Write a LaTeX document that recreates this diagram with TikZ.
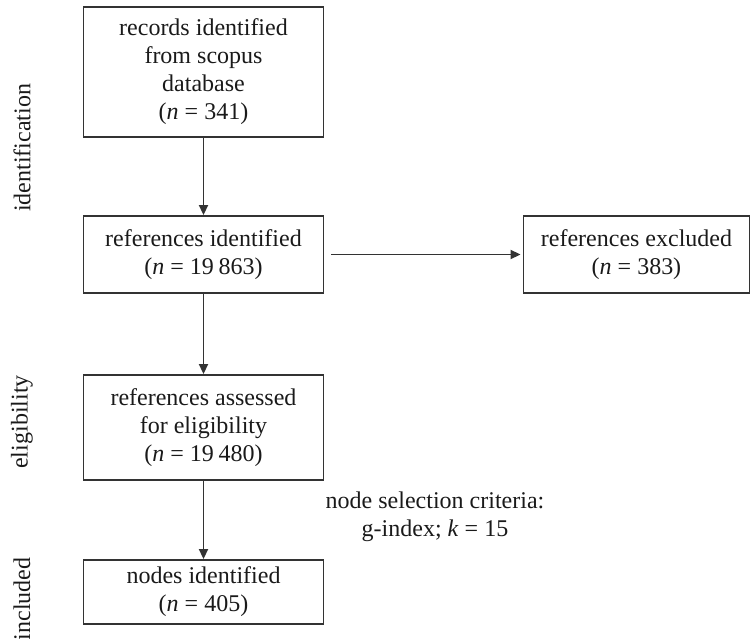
\documentclass[tikz,border=0pt]{standalone}
\usepackage{fontspec}
\setmainfont{Liberation Serif}
\usetikzlibrary{arrows.meta}
\definecolor{linegray}{HTML}{333333}
\definecolor{txt}{HTML}{1A1A1A}
\begin{document}
\begin{tikzpicture}[x=1pt,y=-1pt,
  every node/.style={text=txt,font=\fontsize{24}{28}\selectfont},
  flowbox/.style={draw=linegray,line width=1.9pt,minimum width=240pt,align=center,inner sep=0pt},
  flowarrow/.style={draw=linegray,line width=1.9pt,-{Triangle[length=10pt,width=9pt]}},
  sidelabel/.style={rotate=90,anchor=center,inner sep=0pt}]
\useasboundingbox (0,0) rectangle (750,639);
\newcommand{\gap}{\hspace{0.2em}}
\node[flowbox,minimum height=130pt] (b1) at (203.5,72) {records identified\\from scopus\\database\\(\textit{n} = 341)};
\node[flowbox,minimum height=77pt] (b2) at (203.5,254.5) {references identified\\(\textit{n} = 19\gap 863)};
\node[flowbox,minimum height=77pt,minimum width=226pt] (ex) at (636.5,254.5) {references excluded\\(\textit{n} = 383)};
\node[flowbox,minimum height=105pt] (b3) at (203.5,427.5) {references assessed\\for eligibility\\(\textit{n} = 19\gap 480)};
\node[flowbox,minimum height=64pt] (b4) at (203.5,592) {nodes identified\\(\textit{n} = 405)};
\node[align=center,inner sep=0pt] (crit) at (435,516.5) {node selection criteria:\\g-index; \textit{k} = 15};
\node[sidelabel] (lid) at (22,148) {identification};
\node[sidelabel] (lel) at (22,422) {eligibility};
\node[sidelabel] (lin) at (22,599) {included};
\draw[flowarrow] (b1) -- (b2);
\draw[flowarrow,shorten <=7pt,shorten >=2pt] (b2) -- (ex);
\draw[flowarrow] (b2) -- (b3);
\draw[flowarrow] (b3) -- (b4);
\end{tikzpicture}
\end{document}
